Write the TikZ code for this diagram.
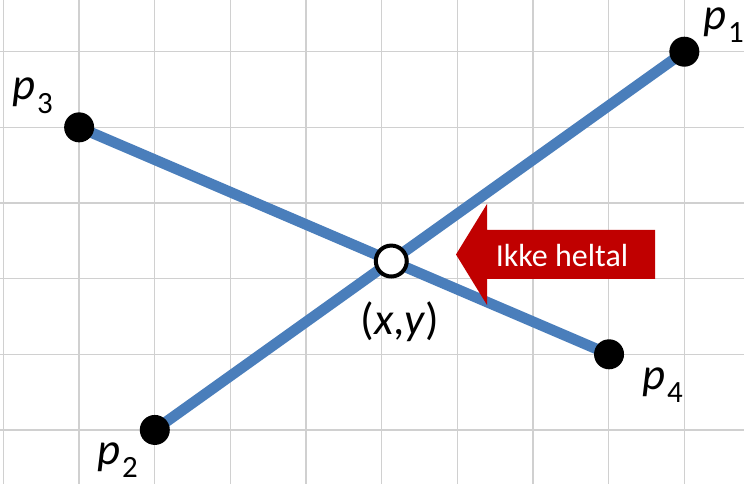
\documentclass[tikz,border=0pt]{standalone}
\usepackage{fontspec}
\setmainfont{Carlito}
\definecolor{gridgray}{HTML}{D0D0D0}
\definecolor{segblue}{HTML}{4A7EBB}
\definecolor{arrowred}{HTML}{C00000}
\newcommand\plab[1]{p\kern0.6pt\raisebox{-5pt}{\fontsize{11.6}{12}\selectfont\upshape #1}}
\begin{document}
\begin{tikzpicture}[x=0.375pt,y=-0.375pt,
  gridline/.style={draw=gridgray,line width=0.5pt},
  seg/.style={draw=segblue,line width=4pt},
  dot/.style={circle,fill=black,inner sep=0pt,minimum size=11.25pt},
  hole/.style={circle,draw=black,fill=white,line width=1.5pt,inner sep=0pt,minimum size=11.6pt},
  lbl/.style={inner sep=0pt,anchor=base west,font=\fontsize{16.8}{18}\selectfont\itshape},
  arrowtext/.style={inner sep=0pt,anchor=base,text=white,font=\fontsize{12}{14}\selectfont}]
\useasboundingbox (0,0) rectangle (744,484);
\fill[white] (0,0) rectangle (744,484);
% grid
\foreach \k in {0,...,9} \draw[gridline] ({3.5+75.65*\k},0) -- ({3.5+75.65*\k},484);
\foreach \j in {0,...,5} \draw[gridline] (0,{51.7+75.65*\j}) -- (744,{51.7+75.65*\j});
% points
\coordinate (c1) at (684.35,51.7);
\coordinate (c3) at (79.15,127.35);
\coordinate (c2) at (154.8,429.95);
\coordinate (c4) at (609.05,354.3);
\coordinate (cx) at (intersection of c2--c1 and c3--c4);
% segments
\draw[seg] (c2) -- (c1);
\draw[seg] (c3) -- (c4);
% dots
\node[dot] (p1) at (c1) {};
\node[dot] (p2) at (c2) {};
\node[dot] (p3) at (c3) {};
\node[dot] (p4) at (c4) {};
\node[hole] (x) at (cx) {};
% labels
\node[lbl] (l1) at (703,29.5) {\plab{1}};
\node[lbl] (l3) at (12,100) {\plab{3}};
\node[lbl] (l4) at (642,389.5) {\plab{4}};
\node[lbl] (l2) at (97,464.5) {\plab{2}};
\node[lbl,font=\fontsize{16.8}{18}\selectfont] (lx) at (360,335) {(\textit{x},\textit{y})};
% arrow
\fill[arrowred] (456,254.5) -- (487,204) -- (487,230) -- (655,230) -- (655,279) -- (487,279) -- (487,305) -- cycle;
\node[arrowtext] (t) at (562,267) {Ikke heltal};
\end{tikzpicture}
\end{document}
